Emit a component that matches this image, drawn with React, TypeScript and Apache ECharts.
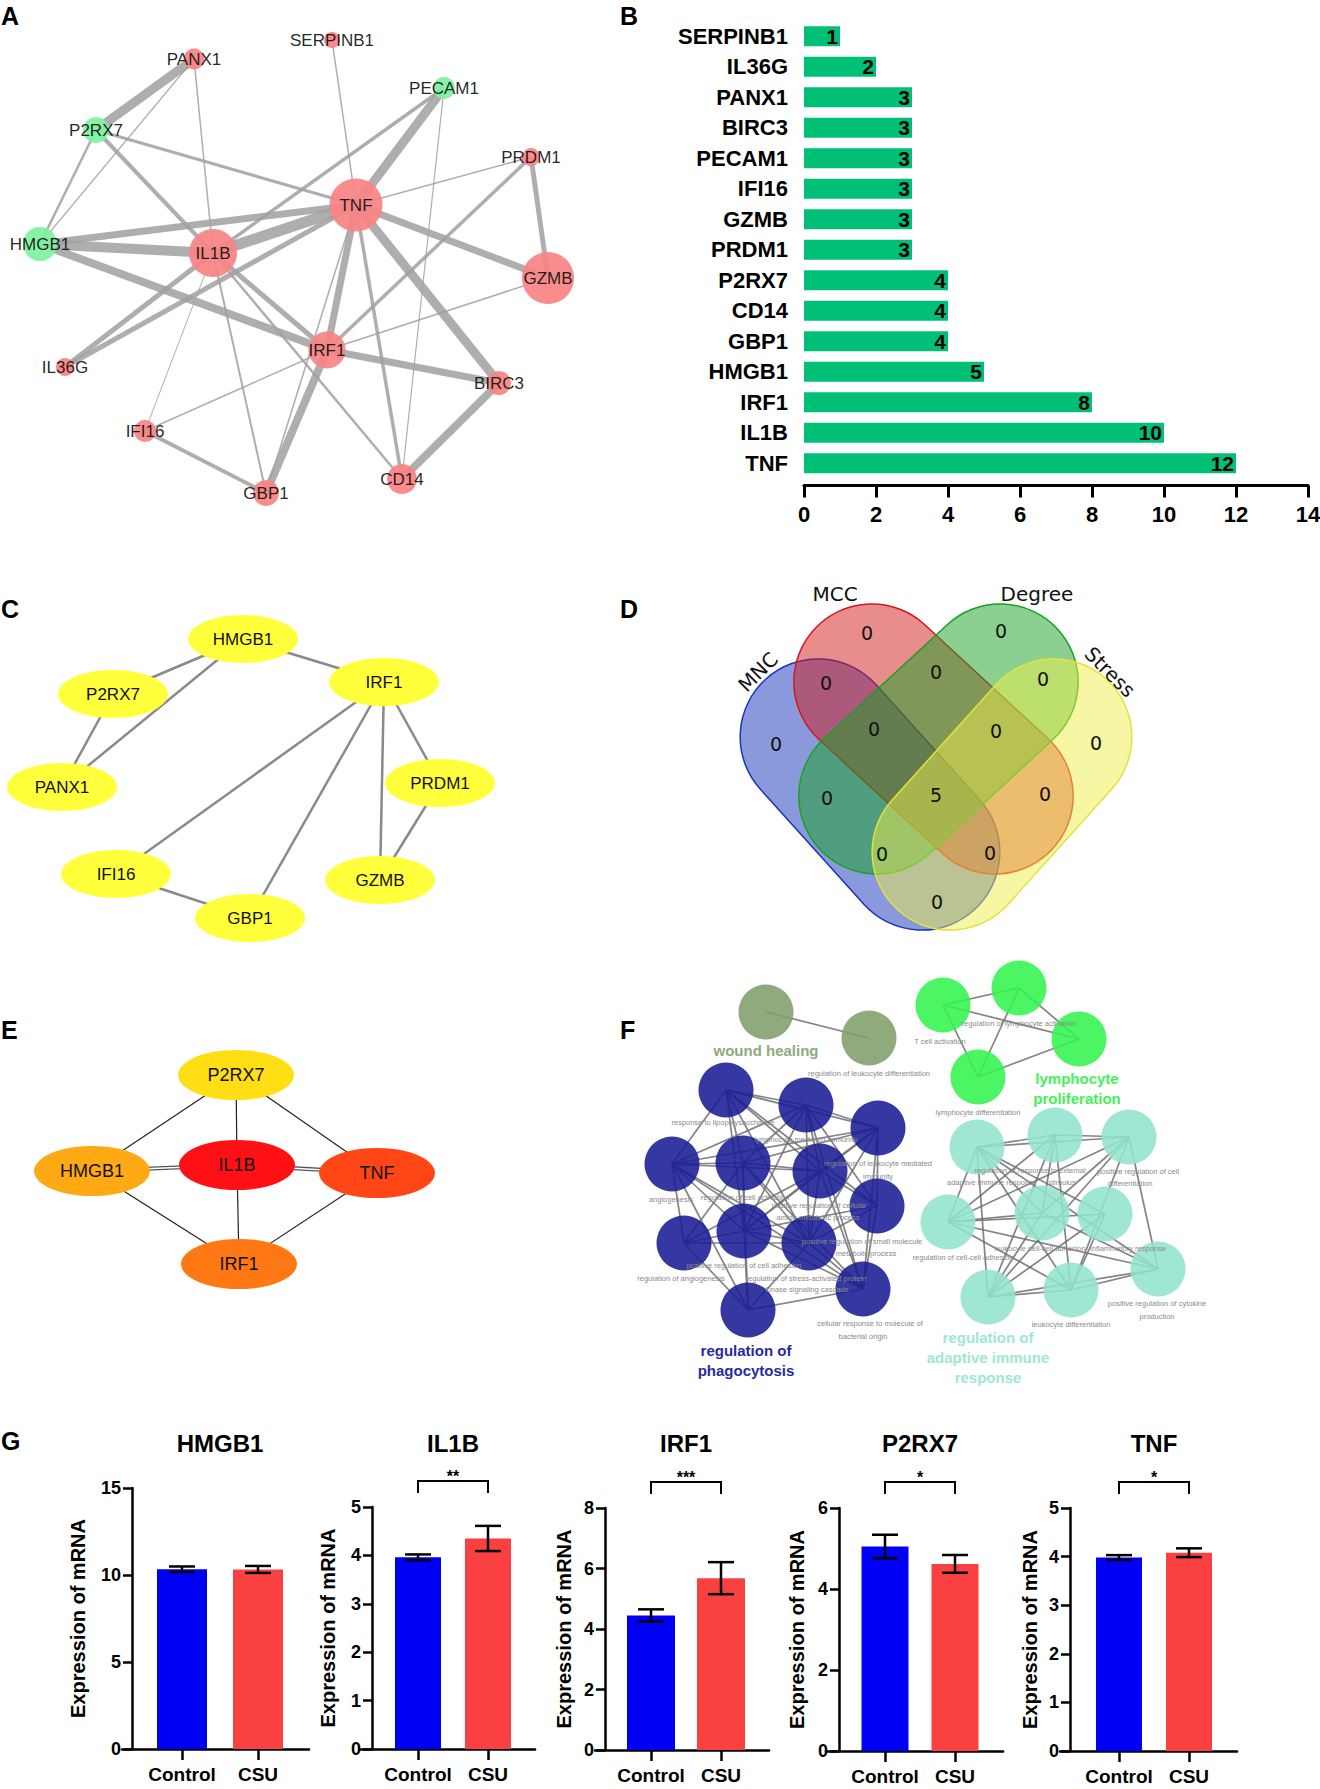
import React, { useEffect, useRef } from "react";
import * as echarts from "echarts";

const SANS = "'Liberation Sans', Arial, Helvetica, sans-serif";
const DEJAVU = "'DejaVu Sans', 'Liberation Sans', sans-serif";

/* ---------------- Panel A : PPI network ---------------- */
const aGenes = ["SERPINB1", "PANX1", "PECAM1", "P2RX7", "PRDM1", "TNF", "HMGB1", "IL1B", "GZMB", "IRF1", "IL36G", "BIRC3", "IFI16", "GBP1", "CD14"];
const aX = [332, 194, 444, 96, 531, 356, 40, 213, 548, 327, 65, 499, 145, 266, 402];
const aY = [40, 59, 88, 130, 157, 205, 244, 253, 278, 350, 367, 383, 431, 493, 479];
const aSize = [16, 21, 22, 26, 18, 53, 34, 48, 52, 37, 18, 24, 22, 26, 30];
const aGreen = [0, 0, 1, 1, 0, 0, 1, 0, 0, 0, 0, 0, 0, 0, 0];
const aEdges: [string, string, number][] = [
  ["PANX1", "P2RX7", 9], ["PANX1", "HMGB1", 1.2], ["PANX1", "IL1B", 1.5],
  ["P2RX7", "HMGB1", 2.5], ["P2RX7", "TNF", 3], ["P2RX7", "IL1B", 4],
  ["SERPINB1", "TNF", 1.5],
  ["PECAM1", "TNF", 9], ["PECAM1", "IL1B", 3.5], ["PECAM1", "CD14", 1.2],
  ["PRDM1", "TNF", 1.6], ["PRDM1", "GZMB", 5], ["PRDM1", "IRF1", 3.5],
  ["TNF", "HMGB1", 7], ["TNF", "IL1B", 11], ["TNF", "GZMB", 7], ["TNF", "IRF1", 7], ["TNF", "BIRC3", 9],
  ["TNF", "CD14", 3.5], ["TNF", "IL36G", 5], ["TNF", "GBP1", 1.5],
  ["HMGB1", "IL1B", 10], ["HMGB1", "IRF1", 8],
  ["IL1B", "IL36G", 5], ["IL1B", "IFI16", 1], ["IL1B", "GBP1", 2], ["IL1B", "IRF1", 5], ["IL1B", "CD14", 2.5],
  ["IRF1", "BIRC3", 7], ["IRF1", "GZMB", 1.5], ["IRF1", "IFI16", 1.5], ["IRF1", "GBP1", 8],
  ["BIRC3", "CD14", 8], ["IFI16", "GBP1", 4],
];

/* ---------------- Panel B : degree ---------------- */
const bGenes = ["SERPINB1", "IL36G", "PANX1", "BIRC3", "PECAM1", "IFI16", "GZMB", "PRDM1", "P2RX7", "CD14", "GBP1", "HMGB1", "IRF1", "IL1B", "TNF"];
const bDegree = [1, 2, 3, 3, 3, 3, 3, 3, 4, 4, 4, 5, 8, 10, 12];
const bAxisMax = 14;
const bAxisStep = 2;

/* ---------------- Panel C ---------------- */
const cGenes = ["HMGB1", "P2RX7", "IRF1", "PANX1", "PRDM1", "IFI16", "GZMB", "GBP1"];
const cX = [243, 113, 384, 62, 440, 116, 380, 250];
const cY = [639, 694, 682, 787, 783, 874, 880, 918];
const cEdges: [string, string][] = [
  ["HMGB1", "P2RX7"], ["HMGB1", "PANX1"], ["HMGB1", "IRF1"], ["P2RX7", "PANX1"], ["IRF1", "IFI16"],
  ["IRF1", "GBP1"], ["IRF1", "GZMB"], ["IRF1", "PRDM1"], ["PRDM1", "GZMB"], ["IFI16", "GBP1"],
];

/* ---------------- Panel D : Venn ---------------- */
const vennSets = ["MNC", "MCC", "Degree", "Stress"];
const vennRegions = ["MCC", "Degree", "MNC&MCC", "MCC&Degree", "Degree&Stress", "MNC", "Stress", "MNC&MCC&Degree",
  "MCC&Degree&Stress", "MNC&Degree", "all", "MCC&Stress", "MNC&Degree&Stress", "MNC&MCC&Stress", "MNC&Stress"];
const vennCounts = [0, 0, 0, 0, 0, 0, 0, 0, 0, 0, 5, 0, 0, 0, 0];
const vennRegionPos = [[867, 633], [1001, 631], [826, 683], [936, 672], [1043, 679], [776, 744], [1096, 743], [874, 729],
  [996, 731], [827, 798], [936, 795], [1045, 794], [882, 854], [990, 853], [937, 902]];

/* ---------------- Panel E ---------------- */
const eGenes = ["P2RX7", "HMGB1", "IL1B", "TNF", "IRF1"];
const eX = [236, 92, 237, 377, 239];
const eY = [1075, 1171, 1165, 1173, 1264];
const eRankColor = ["#FFDE14", "#FFAA14", "#FF1014", "#FF4614", "#FF7814"];
const eEdges: [string, string][] = [["P2RX7", "HMGB1"], ["P2RX7", "IL1B"], ["P2RX7", "TNF"], ["HMGB1", "IRF1"], ["IL1B", "IRF1"], ["TNF", "IRF1"]];
const eDoubleEdges: [string, string][] = [["HMGB1", "IL1B"], ["IL1B", "TNF"]];

/* ---------------- Panel F : ClueGO ---------------- */
const fClusters = ["wound healing", "lymphocyte\nproliferation", "regulation of\nphagocytosis", "regulation of\nadaptive immune\nresponse"];
const fNodeX = [766, 869, 943, 1019, 1079, 978, 726, 806, 878, 672, 743, 820, 877, 684, 744, 809, 863, 748, 977, 1055, 1129, 948, 1042, 1105, 1158, 988, 1071];
const fNodeY = [1012, 1038, 1005, 988, 1039, 1077, 1090, 1105, 1128, 1164, 1163, 1171, 1206, 1243, 1231, 1243, 1289, 1310, 1147, 1135, 1137, 1222, 1213, 1214, 1269, 1297, 1290];
const fNodeCluster = [0, 0, 1, 1, 1, 1, 2, 2, 2, 2, 2, 2, 2, 2, 2, 2, 2, 2, 3, 3, 3, 3, 3, 3, 3, 3, 3];
const fEdgesWound = [[0, 1]];
const fEdgesLymph = [[0, 1], [0, 2], [1, 2], [1, 3], [0, 3], [2, 3]];
const fEdgesPhago = [[0, 1], [0, 2], [0, 3], [0, 4], [0, 5], [0, 6], [0, 8], [0, 9], [1, 2], [1, 3], [1, 4], [1, 5], [1, 6], [1, 8], [1, 9], [1, 10],
  [2, 3], [2, 4], [2, 5], [2, 6], [2, 8], [2, 9], [2, 10], [3, 4], [3, 5], [3, 7], [3, 8], [3, 9], [3, 10], [4, 5], [4, 7], [4, 8], [4, 9], [4, 10], [4, 11],
  [5, 6], [5, 7], [5, 8], [5, 9], [5, 10], [6, 9], [6, 10], [7, 8], [7, 9], [7, 11], [8, 9], [8, 10], [8, 11], [9, 10], [9, 11], [10, 11], [3, 11], [6, 8]];
const fEdgesAdaptive = [[0, 1], [1, 2], [0, 2], [0, 3], [0, 4], [0, 5], [0, 6], [0, 7], [0, 8], [1, 3], [1, 4], [1, 7], [1, 8], [2, 3], [2, 4], [2, 6], [2, 7], [2, 8],
  [3, 4], [3, 5], [3, 6], [3, 8], [4, 6], [4, 7], [5, 7], [5, 8], [6, 7], [6, 8], [7, 8]];
const fTerms: [string, number, number][] = [
  ["regulation of leukocyte differentiation", 869, 1073],
  ["regulation of lymphocyte activation", 1019, 1023],
  ["T cell activation", 940, 1041],
  ["lymphocyte differentiation", 978, 1112],
  ["response to lipopolysaccharide", 723, 1122],
  ["lymphocyte mediated immunity", 806, 1139],
  ["regulation of leukocyte mediated", 878, 1163],
  ["immunity", 878, 1176],
  ["angiogenesis", 671, 1199],
  ["regulation of cell activation", 745, 1197],
  ["positive regulation of cellular", 819, 1205],
  ["amide metabolic process", 818, 1217],
  ["positive regulation of small molecule", 862, 1241],
  ["metabolic process", 866, 1253],
  ["positive regulation of cell adhesion", 744, 1265],
  ["regulation of angiogenesis", 681, 1278],
  ["regulation of stress-activated protein", 806, 1278],
  ["kinase signaling cascade", 807, 1289],
  ["cellular response to molecule of", 870, 1323],
  ["bacterial origin", 863, 1336],
  ["regulation of cell-cell adhesion", 963, 1257],
  ["regulation of response to external", 1030, 1170],
  ["adaptive immune response", 992, 1182],
  ["stimulus", 1062, 1182],
  ["positive regulation of cell", 1138, 1171],
  ["differentiation", 1130, 1183],
  ["leukocyte cell-cell adhesion", 1040, 1248],
  ["inflammatory response", 1128, 1248],
  ["positive regulation of cytokine", 1157, 1303],
  ["production", 1157, 1316],
  ["leukocyte differentiation", 1071, 1324],
];

/* ---------------- Panel G : qPCR ---------------- */
const gGenes = ["HMGB1", "IL1B", "IRF1", "P2RX7", "TNF"];
const gGroups = ["Control", "CSU"];
const gControlMean = [10.33, 3.96, 4.45, 5.05, 3.98];
const gControlSd = [0.16, 0.06, 0.2, 0.29, 0.05];
const gCsuMean = [10.32, 4.35, 5.68, 4.62, 4.08];
const gCsuSd = [0.2, 0.26, 0.53, 0.22, 0.09];
const gYMax = [15, 5, 8, 6, 5];
const gYStep = [5, 1, 2, 2, 1];
const gSig = ["", "**", "***", "*", "*"];

/* layout (pixels) */
const gLayout = [
  { xStart: 122, yAxisX: 132, ctrlX: 182, unit: 76, xEnd: 309, top: 1488, bottom: 1749, barW: 50, nameGap: 44 },
  { xStart: 361, yAxisX: 372, ctrlX: 418, unit: 70, xEnd: 535, top: 1507, bottom: 1749, barW: 46, nameGap: 34 },
  { xStart: 595, yAxisX: 605, ctrlX: 651, unit: 70, xEnd: 769, top: 1508, bottom: 1750, barW: 48, nameGap: 31 },
  { xStart: 826, yAxisX: 839, ctrlX: 885, unit: 70, xEnd: 1003, top: 1508, bottom: 1751, barW: 47, nameGap: 32 },
  { xStart: 1060, yAxisX: 1070, ctrlX: 1119, unit: 70, xEnd: 1237, top: 1508, bottom: 1751, barW: 46, nameGap: 30 },
];

const vennShapes = [
  { cx: 870, cy: 794.5, L: 311, ang: -48, fill: "rgba(19,51,185,0.5)", stroke: "#1a33c0" },
  { cx: 933.5, cy: 739, L: 324, ang: -42.8, fill: "rgba(209,25,25,0.5)", stroke: "#d01a1a" },
  { cx: 938.5, cy: 739, L: 324, ang: 42.8, fill: "rgba(25,161,35,0.5)", stroke: "#1aa023" },
  { cx: 1002, cy: 794.5, L: 311, ang: 48, fill: "rgba(237,237,75,0.5)", stroke: "#e2e23c" },
];
const vennW = 156;
const vennSetLabelPos = [[758, 672, 45], [835, 594, 0], [1037, 594, 0], [1110, 672, -45]];

const fColors = ["#809E6B", "#32F44F", "#181C93", "#93E3CE"];
const fLabelColors = ["#8FAA7D", "#46F05A", "#2A2A9E", "#A0E6D4"];
const fLabelPos = [[766, 1050], [1077, 1088], [746, 1360], [988, 1357]];

function buildOption() {
  const grids: any[] = [];
  const xAxes: any[] = [];
  const yAxes: any[] = [];
  const series: any[] = [];
  const g: any[] = [];

  // identity canvas grid for network panels
  grids.push({ left: 0, top: 0, width: 1320, height: 1789, outerBoundsMode: "none" });
  xAxes.push({ gridIndex: 0, type: "value", min: 0, max: 1320, show: false });
  yAxes.push({ gridIndex: 0, type: "value", min: 0, max: 1789, inverse: true, show: false });

  // Panel A
  series.push({
    type: "graph", coordinateSystem: "cartesian2d", xAxisIndex: 0, yAxisIndex: 0, layout: "none", silent: true,
    data: aGenes.map((n, i) => ({
      name: n, value: [aX[i], aY[i]], symbolSize: aSize[i],
      itemStyle: { color: aGreen[i] ? "#7EF2A0" : "#F98383", opacity: 0.93 },
    })),
    links: aEdges.map(([s, t, w]) => ({ source: s, target: t, lineStyle: { width: w } })),
    lineStyle: { color: "#a0a0a0", opacity: 0.85, curveness: 0 },
    label: { show: true, position: "inside", color: "#111", fontSize: 17, fontFamily: SANS },
    emphasis: { disabled: true },
  });

  // Panel C
  series.push({
    type: "graph", coordinateSystem: "cartesian2d", xAxisIndex: 0, yAxisIndex: 0, layout: "none", silent: true,
    data: cGenes.map((n, i) => ({ name: n, value: [cX[i], cY[i]], symbolSize: [110, 48], itemStyle: { color: "#FFFF3C" } })),
    links: cEdges.map(([s, t]) => ({ source: s, target: t })),
    lineStyle: { color: "#8a8a8a", width: 2.5, opacity: 1, curveness: 0 },
    label: { show: true, position: "inside", color: "#111", fontSize: 17, fontFamily: SANS },
    emphasis: { disabled: true },
  });

  // Panel E
  const eLinks: any[] = eEdges.map(([s, t]) => ({ source: s, target: t }));
  eDoubleEdges.forEach(([s, t]) => {
    eLinks.push({ source: s, target: t, lineStyle: { width: 4.2, color: "#555" } });
    eLinks.push({ source: s, target: t, lineStyle: { width: 1.4, color: "#ffffff" } });
  });
  series.push({
    type: "graph", coordinateSystem: "cartesian2d", xAxisIndex: 0, yAxisIndex: 0, layout: "none", silent: true,
    data: eGenes.map((n, i) => ({ name: n, value: [eX[i], eY[i]], symbolSize: [116, 50], itemStyle: { color: eRankColor[i] } })),
    links: eLinks,
    lineStyle: { color: "#222", width: 1.2, opacity: 1, curveness: 0 },
    label: { show: true, position: "inside", color: "#111", fontSize: 18, fontFamily: SANS },
    emphasis: { disabled: true },
  });

  // Panel F
  const offsets = [0, 2, 6, 18];
  const fLinks: any[] = [];
  [fEdgesWound, fEdgesLymph, fEdgesPhago, fEdgesAdaptive].forEach((list, c) => {
    list.forEach(([s, t]) => fLinks.push({ source: s + offsets[c], target: t + offsets[c] }));
  });
  series.push({
    type: "graph", coordinateSystem: "cartesian2d", xAxisIndex: 0, yAxisIndex: 0, layout: "none", silent: true,
    data: fNodeX.map((x, i) => ({ name: "t" + i, value: [x, fNodeY[i]], symbolSize: 55, itemStyle: { color: fColors[fNodeCluster[i]], opacity: 0.88 } })),
    links: fLinks,
    lineStyle: { color: "#6e6e6e", width: 1.7, opacity: 0.85, curveness: 0 },
    label: { show: false },
    emphasis: { disabled: true },
  });

  // Panel B
  grids.push({ left: 804, top: 21, width: 504, height: 457.5, outerBoundsMode: "none" });
  xAxes.push({
    gridIndex: 1, type: "value", min: 0, max: bAxisMax, interval: bAxisStep, offset: 7,
    axisLine: { show: true, onZero: false, lineStyle: { color: "#000", width: 3 } },
    axisTick: { show: true, length: 12, lineStyle: { color: "#000", width: 3 } },
    axisLabel: { margin: 18, fontSize: 22, fontWeight: "bold", color: "#000", fontFamily: SANS },
    splitLine: { show: false },
  });
  yAxes.push({
    gridIndex: 1, type: "category", data: bGenes, inverse: true,
    axisLine: { show: false }, axisTick: { show: false },
    axisLabel: { margin: 16, fontSize: 22, fontWeight: "bold", color: "#000", fontFamily: SANS },
  });
  series.push({
    type: "bar", xAxisIndex: 1, yAxisIndex: 1, data: bDegree, barWidth: 20, silent: true,
    itemStyle: { color: "#00C078" },
    label: { show: true, position: "insideRight", distance: 2, color: "#000", fontSize: 21, fontWeight: "bold", fontFamily: SANS },
  });

  // Panel G
  gGenes.forEach((gene, i) => {
    const L = gLayout[i];
    const gi = grids.length;
    const min = 1 - (L.ctrlX - L.xStart) / L.unit;
    const max = 2 + (L.xEnd - (L.ctrlX + L.unit)) / L.unit;
    grids.push({ left: L.xStart, top: L.top, width: L.xEnd - L.xStart, height: L.bottom - L.top, outerBoundsMode: "none" });
    xAxes.push({
      gridIndex: gi, type: "value", min, max,
      axisLine: { show: true, onZero: false, lineStyle: { color: "#000", width: 2.5 } },
      axisTick: { show: true, customValues: [1, 2], length: 11, lineStyle: { color: "#000", width: 2.5 } },
      axisLabel: {
        show: true, customValues: [1, 2], margin: 16, fontSize: 19, fontWeight: "bold", color: "#000", fontFamily: SANS,
        formatter: (v: number) => (v === 1 ? gGroups[0] : v === 2 ? gGroups[1] : ""),
      },
      splitLine: { show: false },
    });
    yAxes.push({
      gridIndex: gi, type: "value", min: 0, max: gYMax[i], interval: gYStep[i], offset: -(L.yAxisX - L.xStart),
      axisLine: { show: true, onZero: false, lineStyle: { color: "#000", width: 2.5 } },
      axisTick: { show: true, length: 9, lineStyle: { color: "#000", width: 2.5 } },
      axisLabel: { margin: 11, fontSize: 18, fontWeight: "bold", color: "#000", fontFamily: SANS },
      splitLine: { show: false },
      name: "Expression of mRNA", nameLocation: "middle", nameGap: L.nameGap,
      nameTextStyle: { fontSize: 20, fontWeight: "bold", color: "#000", fontFamily: SANS },
    });
    series.push({
      type: "bar", xAxisIndex: gi, yAxisIndex: gi, barWidth: L.barW, silent: true,
      data: [
        { value: [1, gControlMean[i]], itemStyle: { color: "#0000F5" } },
        { value: [2, gCsuMean[i]], itemStyle: { color: "#FA4040" } },
      ],
    });
    series.push({
      type: "custom", xAxisIndex: gi, yAxisIndex: gi, silent: true, z: 5,
      data: [[1, gControlMean[i], gControlSd[i]], [2, gCsuMean[i], gCsuSd[i]]],
      renderItem: (params: any, api: any) => {
        const x = api.value(0), m = api.value(1), s = api.value(2);
        const t = api.coord([x, m + s]);
        const b = api.coord([x, m - s]);
        const st = { stroke: "#000", lineWidth: 2.5 };
        return {
          type: "group",
          children: [
            { type: "line", shape: { x1: t[0], y1: t[1], x2: b[0], y2: b[1] }, style: st },
            { type: "line", shape: { x1: t[0] - 13, y1: t[1], x2: t[0] + 13, y2: t[1] }, style: st },
            { type: "line", shape: { x1: b[0] - 13, y1: b[1], x2: b[0] + 13, y2: b[1] }, style: st },
          ],
        };
      },
    });
    if (gSig[i]) {
      const sig = gSig[i];
      const ymax = gYMax[i];
      series.push({
        type: "custom", xAxisIndex: gi, yAxisIndex: gi, silent: true, z: 5, clip: false,
        data: [[1, 2]],
        renderItem: (params: any, api: any) => {
          const p1 = api.coord([api.value(0), ymax]);
          const p2 = api.coord([api.value(1), ymax]);
          const y0 = p1[1] - 26;
          return {
            type: "group",
            children: [
              { type: "polyline", shape: { points: [[p1[0], y0 + 12], [p1[0], y0], [p2[0], y0], [p2[0], y0 + 12]] }, style: { stroke: "#000", lineWidth: 2, fill: "none" } },
              { type: "text", x: (p1[0] + p2[0]) / 2, y: y0 - 5, style: { text: sig, fill: "#000", font: "bold 16px " + SANS, textAlign: "center", textVerticalAlign: "middle" } },
            ],
          };
        },
      });
    }
    g.push({ type: "text", x: L.ctrlX + L.unit / 2, y: 1443, z: 20, style: { text: gene, fill: "#000", font: "bold 24px " + SANS, textAlign: "center", textVerticalAlign: "middle" } });
  });

  // Panel letters
  const letters: [string, number, number][] = [["A", 1, 16], ["B", 620, 16], ["C", 1, 609], ["D", 620, 609], ["E", 1, 1030], ["F", 620, 1030], ["G", 1, 1441]];
  letters.forEach(([t, x, y]) => g.push({ type: "text", x, y, z: 20, style: { text: t, fill: "#000", font: "bold 25px " + SANS, textAlign: "left", textVerticalAlign: "middle" } }));

  // Venn shapes
  vennShapes.forEach((s, i) => {
    g.push({
      type: "rect", x: s.cx, y: s.cy, rotation: (s.ang * Math.PI) / 180, z: 1 + i,
      shape: { x: -s.L / 2, y: -vennW / 2, width: s.L, height: vennW, r: vennW / 2 },
      style: { fill: s.fill, stroke: s.stroke, lineWidth: 1.5 },
    });
  });
  vennCounts.forEach((c, i) => {
    g.push({ type: "text", x: vennRegionPos[i][0], y: vennRegionPos[i][1], z: 10, style: { text: String(c), fill: "#111", font: "19px " + DEJAVU, textAlign: "center", textVerticalAlign: "middle" } });
  });
  vennSets.forEach((name, i) => {
    const p = vennSetLabelPos[i];
    g.push({ type: "text", x: p[0], y: p[1], rotation: (p[2] * Math.PI) / 180, z: 10, style: { text: name, fill: "#111", font: "20px " + DEJAVU, textAlign: "center", textVerticalAlign: "middle" } });
  });

  // F labels
  fTerms.forEach(([t, x, y]) => g.push({ type: "text", x, y, z: 30, style: { text: t, fill: "#8a8a8a", font: "7.5px " + SANS, textAlign: "center", textVerticalAlign: "middle" } }));
  fClusters.forEach((t, i) => g.push({
    type: "text", x: fLabelPos[i][0], y: fLabelPos[i][1], z: 31,
    style: { text: t, fill: fLabelColors[i], font: "bold 15px " + SANS, textAlign: "center", textVerticalAlign: "middle", lineHeight: 20 },
  }));

  return {
    animation: false,
    backgroundColor: "#ffffff",
    textStyle: { fontFamily: SANS },
    grid: grids,
    xAxis: xAxes,
    yAxis: yAxes,
    series,
    graphic: { elements: g },
  };
}

export default function App() {
  const ref = useRef<HTMLDivElement>(null);
  useEffect(() => {
    const chart = echarts.init(ref.current!, null, { renderer: "svg" });
    chart.setOption(buildOption() as any);
    return () => chart.dispose();
  }, []);
  return <div ref={ref} style={{ position: "absolute", left: 0, top: 0, width: 1320, height: 1789, background: "#fff" }} />;
}
